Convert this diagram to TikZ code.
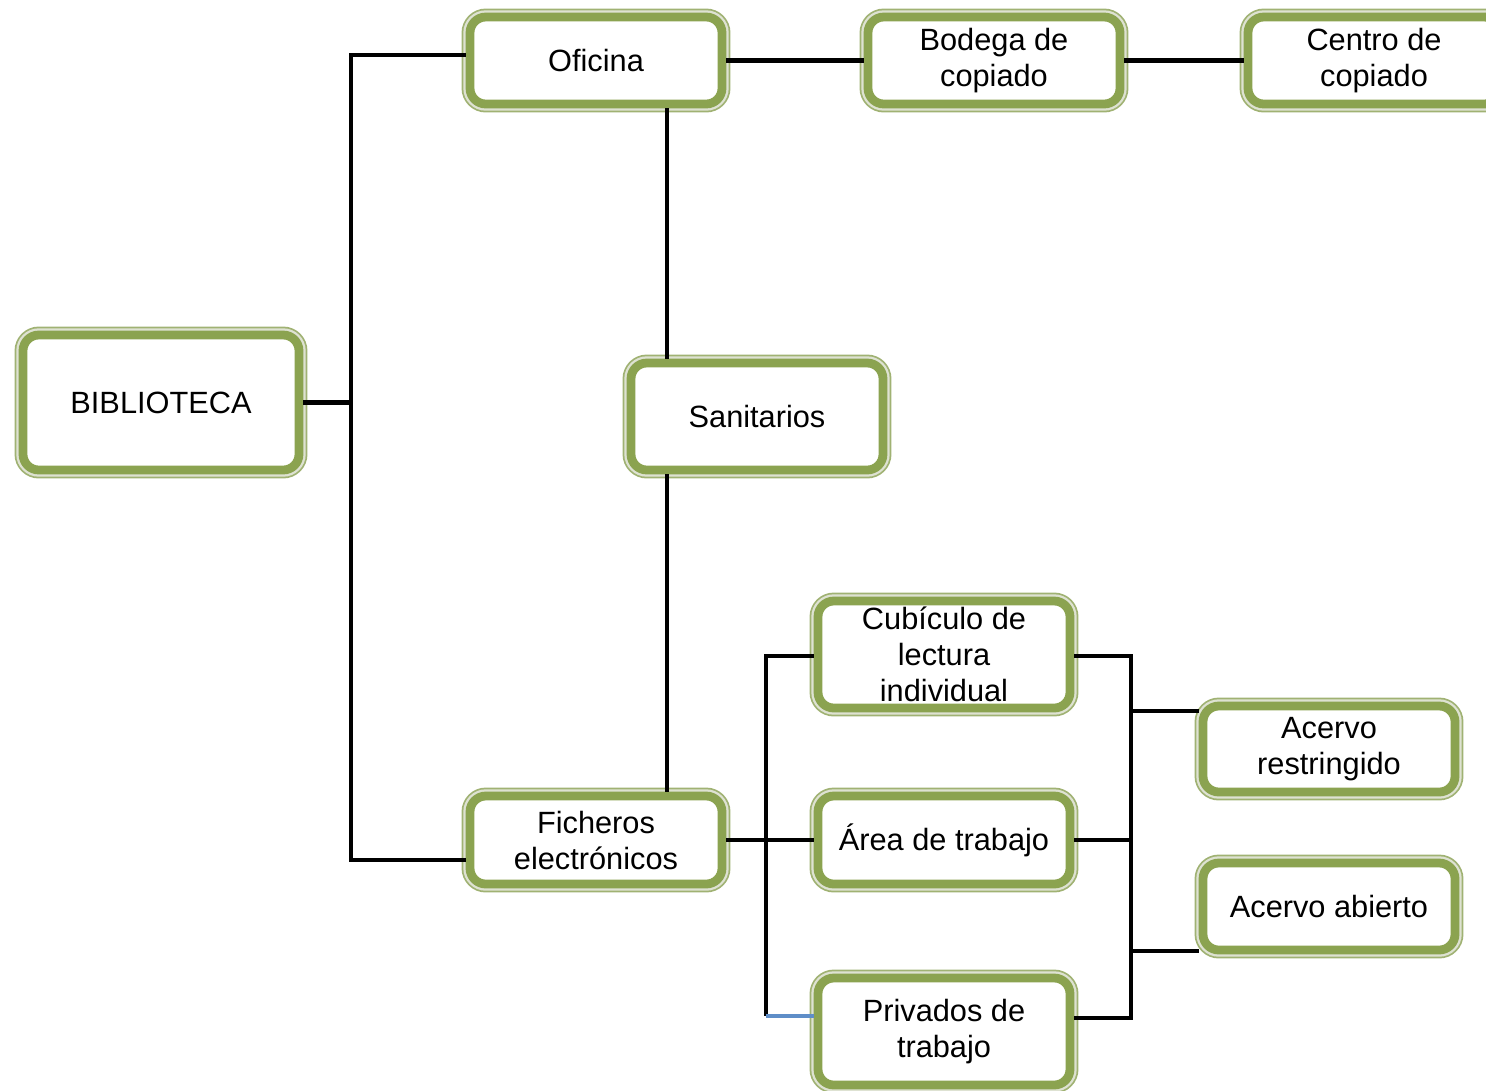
\documentclass[tikz,border=0pt]{standalone}
\usepackage{fontspec}
\setmainfont{Liberation Sans}
\usetikzlibrary{shadows}
\definecolor{olivebox}{RGB}{139,163,80}
\definecolor{oliverim}{RGB}{160,178,115}
\definecolor{rimgap}{RGB}{222,226,210}
\definecolor{linkblue}{RGB}{95,142,200}
\tikzset{
  gbox/.style={
    drop shadow={opacity=0.25, shadow xshift=2.5pt, shadow yshift=-3pt},
    preaction={draw=oliverim, line width=9.6pt},
    preaction={draw=rimgap, line width=7.6pt},
    draw=olivebox, line width=5pt, fill=white,
    rounded corners=9pt, inner sep=0pt, align=center,
    minimum width=252*0.02cm,
    font=\fontsize{17.5}{20.5}\selectfont
  },
  conn/.style={draw=black, line width=2.6pt},
}
\begin{document}
\begin{tikzpicture}[x=0.02cm, y=-0.02cm]
\useasboundingbox (0,0) rectangle (1486,1090);
\clip (0,0) rectangle (1486,1090);

% boxes
\node[gbox, minimum width=276*0.02cm, minimum height=135*0.02cm] (bib) at (161,402.5) {BIBLIOTECA};
\node[gbox, minimum height=87*0.02cm] (ofi) at (596,60.5) {Oficina};
\node[gbox, minimum height=87*0.02cm] (bod) at (994,60.5) {Bodega de\\copiado};
\node[gbox, minimum height=87*0.02cm] (cen) at (1374,60.5) {Centro de\\copiado};
\node[gbox, minimum height=107*0.02cm] (san) at (757,416.5) {Sanitarios};
\node[gbox, minimum height=88*0.02cm] (fic) at (596,840) {Ficheros\\electrónicos};
\node[gbox, minimum height=107*0.02cm] (cub) at (944,654.5) {Cubículo de\\lectura\\individual};
\node[gbox, minimum height=88*0.02cm] (are) at (944,840) {Área de trabajo};
\node[gbox, minimum height=107*0.02cm] (pri) at (944,1031.5) {Privados de\\trabajo};
\node[gbox, minimum height=86*0.02cm] (acr) at (1329,749) {Acervo\\restringido};
\node[gbox, minimum height=87*0.02cm] (aca) at (1329,906.5) {Acervo abierto};

% junction points
\coordinate (t1) at (351,55);
\coordinate (t2) at (351,860);
\coordinate (v1) at (667,0);
\coordinate (t3) at (766,656);
\coordinate (t4) at (766,1016);
\coordinate (t5) at (1131,656);
\coordinate (t6) at (1131,1018);
\coordinate (b1) at (1131,711);
\coordinate (b2) at (1131,951);

% connectors
\draw[conn] (bib.east) -- (bib.east -| t1);
\draw[conn] (ofi.west |- t1) -- (t1) -- (t2) -- (fic.west |- t2);
\draw[conn] (ofi.east) -- (bod.west);
\draw[conn] (bod.east) -- (cen.west);
\draw[conn] (ofi.south -| v1) -- (san.north -| v1);
\draw[conn] (san.south -| v1) -- (fic.north -| v1);
\draw[conn] (fic.east) -- (are.west);
\draw[conn] (cub.west |- t3) -- (t3) -- (t4);
\draw[draw=linkblue, line width=2.6pt] (t4) -- (pri.west |- t4);
\draw[conn] (cub.east |- t5) -- (t5) -- (t6) -- (pri.east |- t6);
\draw[conn] (are.east) -- (are.east -| t5);
\draw[conn] (b1) -- (acr.west |- b1);
\draw[conn] (b2) -- (aca.west |- b2);
\end{tikzpicture}
\end{document}
